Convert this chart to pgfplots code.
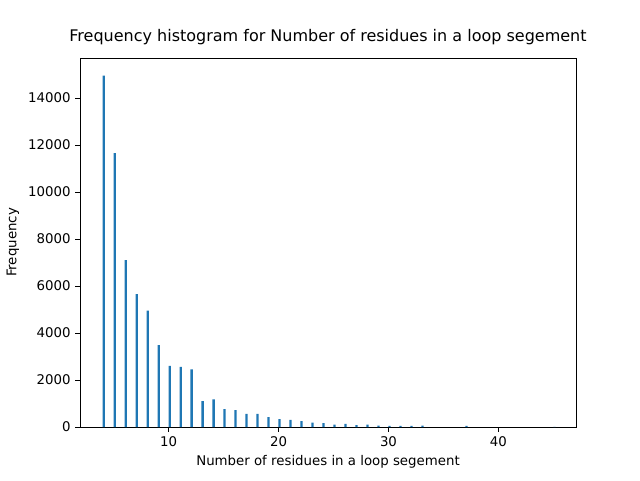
\documentclass[border=0pt]{standalone}
\usepackage{pgfplots}
\pgfplotsset{compat=1.18}
\usepackage{fontspec}
\setmainfont{DejaVu Sans}
\begin{document}
\fontsize{10}{12}\selectfont
\begin{tikzpicture}
\path[use as bounding box] (0,0) rectangle (480pt,360pt);
\begin{axis}[at={(60pt,39.75pt)}, anchor=south west, scale only axis,
 width=372pt, height=276.75pt,
 xmin=1.95, xmax=47.05, ymin=0, ymax=15700,
 xtick={10,20,30,40}, ytick={0,2000,4000,6000,8000,10000,12000,14000},
 scaled y ticks=false, /pgf/number format/assume math mode=true,
 /pgf/number format/1000 sep={},
 tick align=outside, tick style={black, thin}, major tick length=3.5pt,
 xtick pos=bottom, ytick pos=left,
 title={\fontsize{12}{14}\selectfont Frequency histogram for Number of residues in a loop segement},
 xlabel={Number of residues in a loop segement}, ylabel={Frequency},
 ybar, bar width=0.205, bar shift=0.1]
\addplot[fill={rgb,255:red,31;green,119;blue,180}, draw=none] coordinates {
(4,14950)(5,11650)(6,7100)(7,5650)(8,4950)(9,3480)(10,2600)(11,2560)(12,2450)
(13,1100)(14,1180)(15,760)(16,720)(17,560)(18,560)(19,425)(20,340)(21,300)
(22,255)(23,185)(24,170)(25,100)(26,128)(27,85)(28,100)(29,60)(30,43)(31,43)
(32,43)(33,57)(37,43)(45,5)};
\end{axis}
\end{tikzpicture}
\end{document}
